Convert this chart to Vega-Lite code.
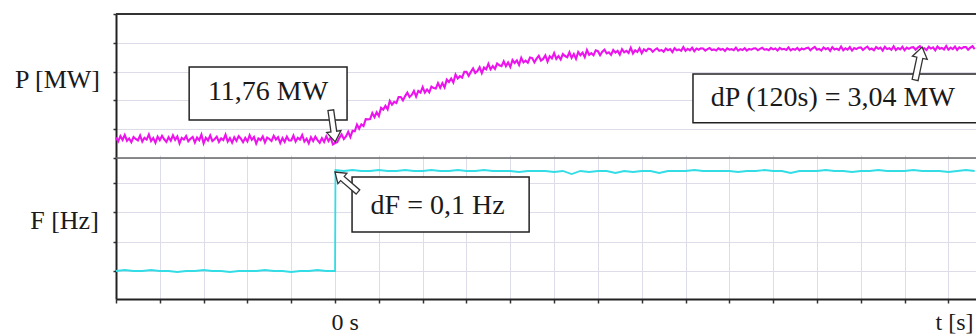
{
"$schema":"https://vega.github.io/schema/vega-lite/v6.json",
"width":860,"height":285,
"autosize":{"type":"none"},
"padding":{"left":116,"top":14,"right":0,"bottom":37},
"background":"white",
"config":{"view":{"stroke":null},"font":"Liberation Serif",
 "axis":{"gridColor":"#dcdde9","gridWidth":1,"domainColor":"#222","domainWidth":2,"tickColor":"#333","tickWidth":1.5,"labelFont":"Liberation Serif","titleFont":"Liberation Serif","titleFontWeight":"normal","titleFontSize":26,"titleColor":"#1a1a1a","labelColor":"#1a1a1a","labelFontSize":24}},
"datasets":{
"P":[
{"t":-50,"P":11.81},{"t":-49.5,"P":11.68},{"t":-49,"P":11.86},{"t":-48.5,"P":11.73},{"t":-48,"P":11.90},{"t":-47.5,"P":11.70},{"t":-47,"P":11.78},{"t":-46.5,"P":11.65},{"t":-46,"P":11.83},{"t":-45.5,"P":11.76},
{"t":-45,"P":11.71},{"t":-44.5,"P":11.88},{"t":-44,"P":11.67},{"t":-43.5,"P":11.80},{"t":-43,"P":11.74},{"t":-42.5,"P":11.92},{"t":-42,"P":11.69},{"t":-41.5,"P":11.79},{"t":-41,"P":11.63},{"t":-40.5,"P":11.84},
{"t":-40,"P":11.72},{"t":-39.5,"P":11.87},{"t":-39,"P":11.75},{"t":-38.5,"P":11.66},{"t":-38,"P":11.82},{"t":-37.5,"P":11.70},{"t":-37,"P":11.89},{"t":-36.5,"P":11.73},{"t":-36,"P":11.85},{"t":-35.5,"P":11.61},
{"t":-35,"P":11.80},{"t":-34.5,"P":11.74},{"t":-34,"P":11.86},{"t":-33.5,"P":11.68},{"t":-33,"P":11.77},{"t":-32.5,"P":11.83},{"t":-32,"P":11.64},{"t":-31.5,"P":11.81},{"t":-31,"P":11.72},{"t":-30.5,"P":11.91},
{"t":-30,"P":11.61},{"t":-29.5,"P":11.80},{"t":-29,"P":11.71},{"t":-28.5,"P":11.88},{"t":-28,"P":11.69},{"t":-27.5,"P":11.75},{"t":-27,"P":11.84},{"t":-26.5,"P":11.66},{"t":-26,"P":11.78},{"t":-25.5,"P":11.72},
{"t":-25,"P":11.91},{"t":-24.5,"P":11.67},{"t":-24,"P":11.79},{"t":-23.5,"P":11.63},{"t":-23,"P":11.82},{"t":-22.5,"P":11.70},{"t":-22,"P":11.86},{"t":-21.5,"P":11.77},{"t":-21,"P":11.65},{"t":-20.5,"P":11.80},
{"t":-20,"P":11.68},{"t":-19.5,"P":11.89},{"t":-19,"P":11.73},{"t":-18.5,"P":11.83},{"t":-18,"P":11.60},{"t":-17.5,"P":11.78},{"t":-17,"P":11.72},{"t":-16.5,"P":11.85},{"t":-16,"P":11.64},{"t":-15.5,"P":11.81},
{"t":-15,"P":11.76},{"t":-14.5,"P":11.69},{"t":-14,"P":11.87},{"t":-13.5,"P":11.74},{"t":-13,"P":11.82},{"t":-12.5,"P":11.62},{"t":-12,"P":11.79},{"t":-11.5,"P":11.66},{"t":-11,"P":11.84},{"t":-10.5,"P":11.71},
{"t":-10,"P":11.71},{"t":-9.5,"P":11.88},{"t":-9,"P":11.67},{"t":-8.5,"P":11.80},{"t":-8,"P":11.74},{"t":-7.5,"P":11.90},{"t":-7,"P":11.67},{"t":-6.5,"P":11.77},{"t":-6,"P":11.61},{"t":-5.5,"P":11.82},
{"t":-5,"P":11.69},{"t":-4.5,"P":11.84},{"t":-4,"P":11.72},{"t":-3.5,"P":11.63},{"t":-3,"P":11.79},{"t":-2.5,"P":11.66},{"t":-2,"P":11.85},{"t":-1.5,"P":11.69},{"t":-1,"P":11.81},{"t":-0.5,"P":11.57},
{"t":0,"P":11.62},{"t":0.5,"P":11.65},{"t":1,"P":11.80},{"t":1.5,"P":11.92},{"t":2,"P":11.76},{"t":2.5,"P":11.85},{"t":3,"P":12.01},{"t":3.5,"P":11.83},{"t":4,"P":12.05},{"t":4.5,"P":12.03},
{"t":5,"P":12.26},{"t":5.5,"P":12.12},{"t":6,"P":12.27},{"t":6.5,"P":12.21},{"t":7,"P":12.45},{"t":7.5,"P":12.44},{"t":8,"P":12.45},{"t":8.5,"P":12.66},{"t":9,"P":12.52},{"t":9.5,"P":12.69},
{"t":10,"P":12.56},{"t":10.5,"P":12.84},{"t":11,"P":12.78},{"t":11.5,"P":12.91},{"t":12,"P":12.79},{"t":12.5,"P":13.08},{"t":13,"P":12.95},{"t":13.5,"P":13.05},{"t":14,"P":13.01},{"t":14.5,"P":13.22},
{"t":15,"P":13.22},{"t":15.5,"P":13.10},{"t":16,"P":13.25},{"t":16.5,"P":13.37},{"t":17,"P":13.22},{"t":17.5,"P":13.29},{"t":18,"P":13.43},{"t":18.5,"P":13.23},{"t":19,"P":13.43},{"t":19.5,"P":13.37},
{"t":20,"P":13.56},{"t":20.5,"P":13.37},{"t":21,"P":13.48},{"t":21.5,"P":13.38},{"t":22,"P":13.58},{"t":22.5,"P":13.53},{"t":23,"P":13.51},{"t":23.5,"P":13.70},{"t":24,"P":13.54},{"t":24.5,"P":13.70},
{"t":25,"P":13.55},{"t":25.5,"P":13.82},{"t":26,"P":13.74},{"t":26.5,"P":13.86},{"t":27,"P":13.72},{"t":27.5,"P":14.00},{"t":28,"P":13.86},{"t":28.5,"P":13.94},{"t":29,"P":13.89},{"t":29.5,"P":14.09},
{"t":30,"P":14.09},{"t":30.5,"P":13.95},{"t":31,"P":14.09},{"t":31.5,"P":14.21},{"t":32,"P":14.05},{"t":32.5,"P":14.12},{"t":33,"P":14.25},{"t":33.5,"P":14.05},{"t":34,"P":14.24},{"t":34.5,"P":14.18},
{"t":35,"P":14.37},{"t":35.5,"P":14.18},{"t":36,"P":14.29},{"t":36.5,"P":14.19},{"t":37,"P":14.38},{"t":37.5,"P":14.32},{"t":38,"P":14.29},{"t":38.5,"P":14.46},{"t":39,"P":14.29},{"t":39.5,"P":14.42},
{"t":40,"P":14.26},{"t":40.5,"P":14.50},{"t":41,"P":14.40},{"t":41.5,"P":14.49},{"t":42,"P":14.33},{"t":42.5,"P":14.58},{"t":43,"P":14.42},{"t":43.5,"P":14.48},{"t":44,"P":14.41},{"t":44.5,"P":14.59},
{"t":45,"P":14.57},{"t":45.5,"P":14.42},{"t":46,"P":14.55},{"t":46.5,"P":14.65},{"t":47,"P":14.48},{"t":47.5,"P":14.54},{"t":48,"P":14.66},{"t":48.5,"P":14.45},{"t":49,"P":14.63},{"t":49.5,"P":14.56},
{"t":50,"P":14.74},{"t":50.5,"P":14.54},{"t":51,"P":14.64},{"t":51.5,"P":14.52},{"t":52,"P":14.71},{"t":52.5,"P":14.64},{"t":53,"P":14.60},{"t":53.5,"P":14.77},{"t":54,"P":14.58},{"t":54.5,"P":14.71},
{"t":55,"P":14.54},{"t":55.5,"P":14.78},{"t":56,"P":14.67},{"t":56.5,"P":14.76},{"t":57,"P":14.60},{"t":57.5,"P":14.85},{"t":58,"P":14.68},{"t":58.5,"P":14.74},{"t":59,"P":14.67},{"t":59.5,"P":14.84},
{"t":60,"P":14.81},{"t":60.5,"P":14.67},{"t":61,"P":14.79},{"t":61.5,"P":14.86},{"t":62,"P":14.73},{"t":62.5,"P":14.77},{"t":63,"P":14.68},{"t":63.5,"P":14.85},{"t":64,"P":14.76},{"t":64.5,"P":14.82},
{"t":65,"P":14.69},{"t":65.5,"P":14.88},{"t":66,"P":14.77},{"t":66.5,"P":14.82},{"t":67,"P":14.75},{"t":67.5,"P":14.93},{"t":68,"P":14.73},{"t":68.5,"P":14.84},{"t":69,"P":14.78},{"t":69.5,"P":14.91},
{"t":70,"P":14.74},{"t":70.5,"P":14.87},{"t":71,"P":14.81},{"t":71.5,"P":14.90},{"t":72,"P":14.88},{"t":72.5,"P":14.79},{"t":73,"P":14.86},{"t":73.5,"P":14.91},{"t":74,"P":14.82},{"t":74.5,"P":14.85},
{"t":75,"P":14.79},{"t":75.5,"P":14.90},{"t":76,"P":14.84},{"t":76.5,"P":14.88},{"t":77,"P":14.78},{"t":77.5,"P":14.91},{"t":78,"P":14.84},{"t":78.5,"P":14.87},{"t":79,"P":14.82},{"t":79.5,"P":14.95},
{"t":80,"P":14.82},{"t":80.5,"P":14.89},{"t":81,"P":14.84},{"t":81.5,"P":14.93},{"t":82,"P":14.81},{"t":82.5,"P":14.90},{"t":83,"P":14.86},{"t":83.5,"P":14.91},{"t":84,"P":14.90},{"t":84.5,"P":14.83},
{"t":85,"P":14.88},{"t":85.5,"P":14.92},{"t":86,"P":14.85},{"t":86.5,"P":14.87},{"t":87,"P":14.83},{"t":87.5,"P":14.91},{"t":88,"P":14.86},{"t":88.5,"P":14.89},{"t":89,"P":14.82},{"t":89.5,"P":14.91},
{"t":90,"P":14.86},{"t":90.5,"P":14.88},{"t":91,"P":14.84},{"t":91.5,"P":14.93},{"t":92,"P":14.83},{"t":92.5,"P":14.88},{"t":93,"P":14.85},{"t":93.5,"P":14.91},{"t":94,"P":14.83},{"t":94.5,"P":14.89},
{"t":95,"P":14.86},{"t":95.5,"P":14.90},{"t":96,"P":14.91},{"t":96.5,"P":14.84},{"t":97,"P":14.89},{"t":97.5,"P":14.93},{"t":98,"P":14.86},{"t":98.5,"P":14.88},{"t":99,"P":14.84},{"t":99.5,"P":14.92},
{"t":100,"P":14.87},{"t":100.5,"P":14.90},{"t":101,"P":14.83},{"t":101.5,"P":14.92},{"t":102,"P":14.87},{"t":102.5,"P":14.89},{"t":103,"P":14.85},{"t":103.5,"P":14.94},{"t":104,"P":14.84},{"t":104.5,"P":14.89},
{"t":105,"P":14.86},{"t":105.5,"P":14.92},{"t":106,"P":14.84},{"t":106.5,"P":14.90},{"t":107,"P":14.87},{"t":107.5,"P":14.91},{"t":108,"P":14.93},{"t":108.5,"P":14.84},{"t":109,"P":14.91},{"t":109.5,"P":14.96},
{"t":110,"P":14.86},{"t":110.5,"P":14.89},{"t":111,"P":14.83},{"t":111.5,"P":14.94},{"t":112,"P":14.88},{"t":112.5,"P":14.92},{"t":113,"P":14.82},{"t":113.5,"P":14.95},{"t":114,"P":14.87},{"t":114.5,"P":14.90},
{"t":115,"P":14.85},{"t":115.5,"P":14.97},{"t":116,"P":14.84},{"t":116.5,"P":14.91},{"t":117,"P":14.86},{"t":117.5,"P":14.95},{"t":118,"P":14.83},{"t":118.5,"P":14.92},{"t":119,"P":14.88},{"t":119.5,"P":14.93},
{"t":120,"P":14.94},{"t":120.5,"P":14.85},{"t":121,"P":14.92},{"t":121.5,"P":14.97},{"t":122,"P":14.87},{"t":122.5,"P":14.90},{"t":123,"P":14.84},{"t":123.5,"P":14.95},{"t":124,"P":14.89},{"t":124.5,"P":14.93},
{"t":125,"P":14.83},{"t":125.5,"P":14.96},{"t":126,"P":14.88},{"t":126.5,"P":14.91},{"t":127,"P":14.86},{"t":127.5,"P":14.98},{"t":128,"P":14.85},{"t":128.5,"P":14.92},{"t":129,"P":14.87},{"t":129.5,"P":14.96},
{"t":130,"P":14.84},{"t":130.5,"P":14.93},{"t":131,"P":14.89},{"t":131.5,"P":14.94},{"t":132,"P":14.95},{"t":132.5,"P":14.86},{"t":133,"P":14.93},{"t":133.5,"P":14.98},{"t":134,"P":14.88},{"t":134.5,"P":14.91},
{"t":135,"P":14.85},{"t":135.5,"P":14.96},{"t":136,"P":14.90},{"t":136.5,"P":14.94},{"t":137,"P":14.84},{"t":137.5,"P":14.97},{"t":138,"P":14.89},{"t":138.5,"P":14.92},{"t":139,"P":14.87},{"t":139.5,"P":14.99},
{"t":140,"P":14.86},{"t":140.5,"P":14.93},{"t":141,"P":14.88},{"t":141.5,"P":14.97},{"t":142,"P":14.85},{"t":142.5,"P":14.94},{"t":143,"P":14.90},{"t":143.5,"P":14.95},{"t":144,"P":14.95},{"t":144.5,"P":14.86},
{"t":145,"P":14.93},{"t":145.5,"P":14.98},{"t":146,"P":14.88}
],
"F":[
{"t":-50,"F":50.000},{"t":-48,"F":50.001},{"t":-46,"F":50.000},{"t":-44,"F":50.000},{"t":-42,"F":50.001},{"t":-40,"F":50.000},{"t":-38,"F":50.000},{"t":-36,"F":49.999},{"t":-34,"F":50.000},{"t":-32,"F":50.000},
{"t":-30,"F":50.001},{"t":-28,"F":50.000},{"t":-26,"F":50.000},{"t":-24,"F":49.999},{"t":-22,"F":50.000},{"t":-20,"F":50.000},{"t":-18,"F":50.000},{"t":-16,"F":50.001},{"t":-14,"F":50.000},{"t":-12,"F":50.000},
{"t":-10,"F":49.999},{"t":-8,"F":50.000},{"t":-6,"F":50.000},{"t":-4,"F":50.001},{"t":-2,"F":50.000},{"t":0,"F":50.000},
{"t":0.1,"F":50.101},{"t":2,"F":50.100},{"t":4,"F":50.101},{"t":6,"F":50.100},{"t":8,"F":50.100},{"t":10,"F":50.101},{"t":12,"F":50.100},{"t":14,"F":50.100},{"t":16,"F":50.101},{"t":18,"F":50.100},
{"t":20,"F":50.100},{"t":22,"F":50.101},{"t":24,"F":50.100},{"t":26,"F":50.100},{"t":28,"F":50.101},{"t":30,"F":50.100},{"t":32,"F":50.100},{"t":34,"F":50.101},{"t":36,"F":50.100},{"t":38,"F":50.100},
{"t":40,"F":50.100},{"t":42,"F":50.099},{"t":44,"F":50.100},{"t":46,"F":50.100},{"t":48,"F":50.100},{"t":50,"F":50.099},{"t":52,"F":50.100},{"t":54,"F":50.097},{"t":56,"F":50.100},{"t":58,"F":50.099},
{"t":60,"F":50.100},{"t":62,"F":50.100},{"t":64,"F":50.098},{"t":66,"F":50.100},{"t":68,"F":50.099},{"t":70,"F":50.100},{"t":72,"F":50.100},{"t":74,"F":50.098},{"t":76,"F":50.100},{"t":78,"F":50.100},
{"t":80,"F":50.100},{"t":82,"F":50.101},{"t":84,"F":50.100},{"t":86,"F":50.100},{"t":88,"F":50.100},{"t":90,"F":50.100},{"t":92,"F":50.099},{"t":94,"F":50.100},{"t":96,"F":50.100},{"t":98,"F":50.101},
{"t":100,"F":50.100},{"t":102,"F":50.100},{"t":104,"F":50.098},{"t":106,"F":50.100},{"t":108,"F":50.100},{"t":110,"F":50.100},{"t":112,"F":50.101},{"t":114,"F":50.100},{"t":116,"F":50.100},{"t":118,"F":50.099},
{"t":120,"F":50.100},{"t":122,"F":50.100},{"t":124,"F":50.101},{"t":126,"F":50.100},{"t":128,"F":50.100},{"t":130,"F":50.100},{"t":132,"F":50.101},{"t":134,"F":50.100},{"t":136,"F":50.100},{"t":138,"F":50.100},
{"t":140,"F":50.099},{"t":142,"F":50.100},{"t":144,"F":50.101},{"t":146,"F":50.100}
],
"boxes":[
{"panel":"P","label":"11,76 MW","t1":-33.3,"t2":2.74,"lo":12.42,"hi":14.26,"tc":-15.3,"vc":13.39},
{"panel":"P","label":"dP (120s) = 3,04 MW","t1":81.7,"t2":150,"lo":12.32,"hi":14.02,"tc":113.6,"vc":13.18},
{"panel":"F","label":"dF = 0,1 Hz","t1":3.88,"t2":44.3,"lo":50.039,"hi":50.094,"tc":23.4,"vc":50.0655}
],
"arrows":[
{"panel":"P","name":"a1","t":-0.46,"v":12.21},
{"panel":"P","name":"a3","t":133.2,"v":14.38},
{"panel":"F","name":"a2","t":2.6,"v":50.089}
],
"one":[{"k":1}]
},
"resolve":{"scale":{"y":"independent"},"axis":{"y":"independent"}},
"layer":[
{"layer":[
 {"data":{"name":"P"},"mark":{"type":"line","color":"#ec14ec","strokeWidth":2.1},
  "encoding":{
   "x":{"field":"t","type":"quantitative","scale":{"domain":[-50,146.3],"nice":false,"zero":false},
     "axis":{"values":[-50,-40,-30,-20,-10,0,10,20,30,40,50,60,70,80,90,100,110,120,130,140],"grid":true,"tickSize":4,
       "labelExpr":"datum.value === 0 ? '0 s' : ''","labelAlign":"left","labelBaseline":"alphabetic","labelPadding":26,"labelOffset":-4,"labelOverlap":false,"labelFlush":false,
       "title":"t [s]","titleFontSize":24,"titleX":819,"titleY":30,"titleAlign":"left","titleBaseline":"alphabetic","titleAnchor":"start"}},
   "y":{"field":"P","type":"quantitative","scale":{"domain":[11.1,16.1],"range":[144,0],"nice":false,"zero":false},
     "axis":{"orient":"left","values":[11.1,12.1,13.1,14.1,15.1,16.1],"grid":true,"labels":false,"tickSize":3,
       "title":"P [MW]","titleAngle":0,"titleX":-59,"titleY":65,"titleAlign":"center","titleBaseline":"middle"}}}},
 {"data":{"name":"one"},"mark":{"type":"rule","color":"#333","strokeWidth":2},
  "encoding":{"y":{"datum":16.1,"type":"quantitative"}}},
 {"data":{"name":"one"},"mark":{"type":"rule","color":"#666","strokeWidth":1.5},
  "encoding":{"y":{"datum":11.1,"type":"quantitative"}}},
 {"data":{"name":"boxes"},"transform":[{"filter":"datum.panel === 'P'"}],
  "mark":{"type":"rect","fill":"white","stroke":"#222","strokeWidth":1.5,"clip":true},
  "encoding":{"x":{"field":"t1","type":"quantitative"},"x2":{"field":"t2"},
   "y":{"field":"lo","type":"quantitative"},"y2":{"field":"hi"}}},
 {"data":{"name":"boxes"},"transform":[{"filter":"datum.panel === 'P'"}],
  "mark":{"type":"text","font":"Liberation Serif","fontSize":28,"color":"#1a1a1a","align":"center","baseline":"middle"},
  "encoding":{"x":{"field":"tc","type":"quantitative"},"y":{"field":"vc","type":"quantitative"},"text":{"field":"label"}}},
 {"data":{"name":"arrows"},"transform":[{"filter":"datum.name === 'a1'"}],
  "mark":{"type":"point","shape":"M0,-1L0.45,-0.35L0.18,-0.35L0.18,1L-0.18,1L-0.18,-0.35L-0.45,-0.35Z","filled":true,"fill":"white","stroke":"#333","strokeWidth":1.3,"opacity":1,"size":1024,"angle":172},
  "encoding":{"x":{"field":"t","type":"quantitative"},"y":{"field":"v","type":"quantitative"}}},
 {"data":{"name":"arrows"},"transform":[{"filter":"datum.name === 'a3'"}],
  "mark":{"type":"point","shape":"M0,-1L0.45,-0.35L0.18,-0.35L0.18,1L-0.18,1L-0.18,-0.35L-0.45,-0.35Z","filled":true,"fill":"white","stroke":"#333","strokeWidth":1.3,"opacity":1,"size":1130,"angle":12},
  "encoding":{"x":{"field":"t","type":"quantitative"},"y":{"field":"v","type":"quantitative"}}}
]},
{"layer":[
 {"data":{"name":"F"},"mark":{"type":"line","color":"#33dde6","strokeWidth":1.8},
  "encoding":{
   "x":{"field":"t","type":"quantitative"},
   "y":{"field":"F","type":"quantitative","scale":{"domain":[49.972,50.113],"range":[285,144],"nice":false,"zero":false},
     "axis":{"orient":"left","values":[50.0,50.029,50.059,50.088],"grid":true,"labels":false,"tickSize":3,
       "title":"F [Hz]","titleAngle":0,"titleX":-52,"titleY":206,"titleAlign":"center","titleBaseline":"middle"}}}},
 {"data":{"name":"boxes"},"transform":[{"filter":"datum.panel === 'F'"}],
  "mark":{"type":"rect","fill":"white","stroke":"#222","strokeWidth":1.5,"clip":true},
  "encoding":{"x":{"field":"t1","type":"quantitative"},"x2":{"field":"t2"},
   "y":{"field":"lo","type":"quantitative"},"y2":{"field":"hi"}}},
 {"data":{"name":"boxes"},"transform":[{"filter":"datum.panel === 'F'"}],
  "mark":{"type":"text","font":"Liberation Serif","fontSize":28,"color":"#1a1a1a","align":"center","baseline":"middle"},
  "encoding":{"x":{"field":"tc","type":"quantitative"},"y":{"field":"vc","type":"quantitative"},"text":{"field":"label"}}},
 {"data":{"name":"arrows"},"transform":[{"filter":"datum.name === 'a2'"}],
  "mark":{"type":"point","shape":"M0,-1L0.45,-0.35L0.18,-0.35L0.18,1L-0.18,1L-0.18,-0.35L-0.45,-0.35Z","filled":true,"fill":"white","stroke":"#333","strokeWidth":1.3,"opacity":1,"size":930,"angle":311},
  "encoding":{"x":{"field":"t","type":"quantitative"},"y":{"field":"v","type":"quantitative"}}}
]}
]
}
